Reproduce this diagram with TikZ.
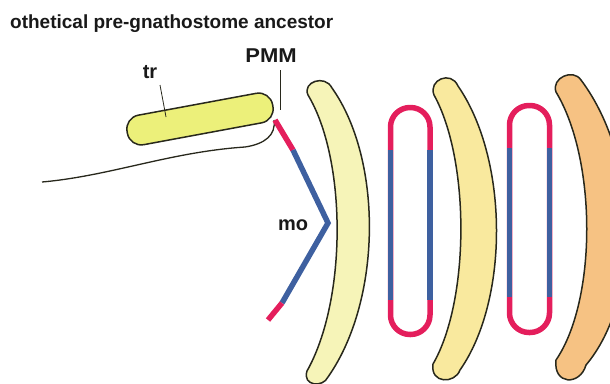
\documentclass[tikz,border=0pt]{standalone}
\usepackage{fontspec}
\setmainfont{Liberation Sans}
\definecolor{inkline}{RGB}{40,40,28}
\definecolor{txt}{RGB}{25,25,25}
\definecolor{pmmred}{RGB}{228,30,92}
\definecolor{moblue}{RGB}{62,96,160}
\definecolor{archA}{RGB}{246,244,184}
\definecolor{archB}{RGB}{249,233,158}
\definecolor{archC}{RGB}{246,194,131}
\definecolor{trfill}{RGB}{236,240,122}
\begin{document}
\begin{tikzpicture}[x=1pt,y=-1pt,
  outline/.style={draw=inkline,line width=1.5pt},
  redseg/.style={draw=pmmred,line width=5.5pt},
  blueseg/.style={draw=moblue,line width=5.5pt},
  lbl/.style={font=\bfseries\fontsize{20}{20}\selectfont,text=txt,inner sep=0pt},
  pointer/.style={draw=inkline,line width=0.8pt}]
\path[use as bounding box] (0,0) rectangle (610,383);
\clip (0,0) rectangle (610,383);

% pharyngeal arches
\path[outline,fill=archA] (308,95) .. controls (302,82) and (325,74) .. (332,88)
  .. controls (383,160) and (382,300) .. (328,377)
  .. controls (323,388) and (302,386) .. (307,371)
  .. controls (347,300) and (347,160) .. cycle;
\path[outline,fill=archB] (434,95) .. controls (428,80) and (451,70) .. (458,86)
  .. controls (509,160) and (509,300) .. (460,370)
  .. controls (455,384) and (430,384) .. (433,364)
  .. controls (470,300) and (470,160) .. cycle;
\path[outline,fill=archC] (556,92) .. controls (551,78) and (573,68) .. (581,80)
  .. controls (641,160) and (641,300) .. (586,365)
  .. controls (580,386) and (553,385) .. (556,360)
  .. controls (597,300) and (597,160) .. cycle;

% gill slits: red ends, blue middle
\draw[redseg,rounded corners=19.5pt] (390.5,107.5) rectangle (430,334.5);
\draw[blueseg] (390.5,150) -- (390.5,300);
\draw[blueseg] (430,150) -- (430,300);
\draw[redseg,rounded corners=19.5pt] (509.5,105.5) rectangle (549.5,332.5);
\draw[blueseg] (509.5,148) -- (509.5,297);
\draw[blueseg] (549.5,148) -- (549.5,297);

% trabecula
\node[outline,fill=trfill,rounded corners=14pt,minimum width=148pt,
  minimum height=30pt,rotate=10.5,inner sep=0pt] (trbody) at (200,119) {};

% oral outline
\coordinate (oralend) at (42,182);
\coordinate (pmmtip) at (274,120);
\draw[outline,line width=1.3pt] (oralend) .. controls (110,176) and (170,152) .. (245,147)
  .. controls (265,144) and (276,135) .. (pmmtip);

% mouth
\coordinate (m1) at (275,120);
\coordinate (m2) at (293,150);
\coordinate (m3) at (328,223);
\coordinate (m4) at (282,303);
\coordinate (m5) at (268,320);
\draw[redseg] (m1) -- (m2);
\draw[blueseg,line join=miter] (m2) -- (m3) -- (m4);
\draw[redseg] (m4) -- (m5);

% labels
\node[font=\bfseries\fontsize{19}{19}\selectfont,text=txt,inner sep=0pt,anchor=base west]
  (title) at (10,28) {othetical pre-gnathostome ancestor};
\node[lbl] (tr) at (150,72) {tr};
\node[lbl,xscale=1.1] (pmm) at (271,56) {PMM};
\node[lbl] (mo) at (293,225) {mo};
\coordinate (trhit) at (166,117);
\coordinate (pmmhit) at (280,110);
\draw[pointer] (160,85) -- (trhit);
\draw[pointer] (280,70) -- (pmmhit);
\end{tikzpicture}
\end{document}
